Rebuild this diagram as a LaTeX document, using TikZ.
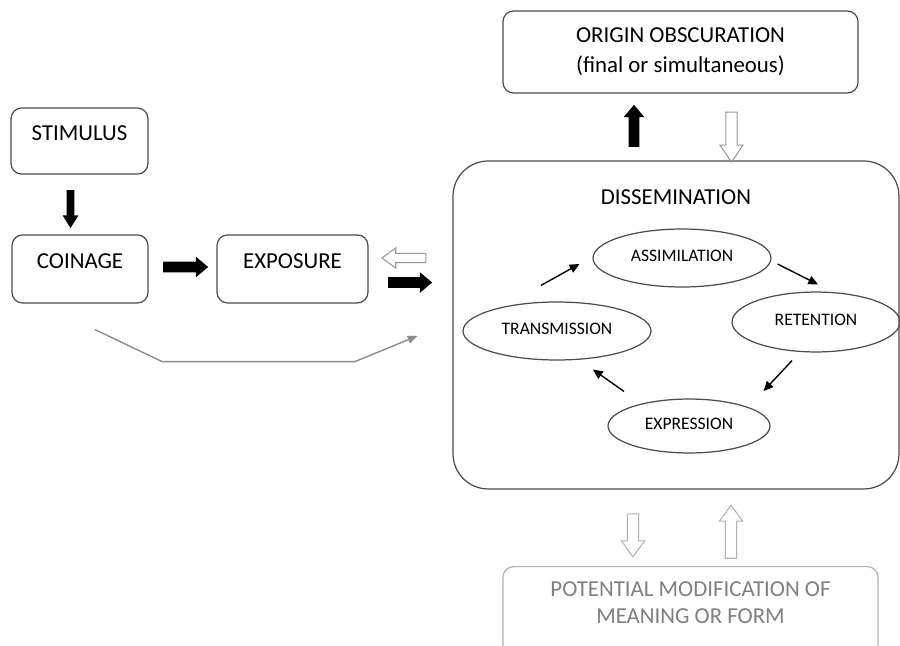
\documentclass[tikz,border=0pt]{standalone}
\usepackage{fontspec}
\setmainfont{Carlito}
\usetikzlibrary{shapes.geometric,shapes.arrows,arrows.meta,calc}

\tikzset{
  stagebox/.style={draw=black!70,line width=0.7pt,rounded corners=6pt,inner sep=0pt,font=\fontsize{13}{17}\selectfont},
  phase/.style={ellipse,draw=black!70,line width=0.7pt,inner sep=0pt,text depth=2pt,font=\fontsize{10}{12}\selectfont},
  cyc/.style={line width=0.8pt,-{Triangle[length=5.5pt,width=5pt]}},
  fullarrow/.style={single arrow,fill=black,inner xsep=0pt,inner ysep=2.85pt,minimum width=0pt,single arrow head extend=2.85pt,single arrow tip angle=80},
  openarrow/.style={single arrow,draw=black!40,line width=0.6pt,inner xsep=0pt,inner ysep=2.85pt,minimum width=0pt,single arrow head extend=3.41pt,single arrow tip angle=72},
}

\begin{document}
\begin{tikzpicture}[x=0.02cm,y=-0.02cm]
\clip(0,0)rectangle(900,646);
% stages on the left
\node[stagebox,anchor=base,minimum width=77.9pt,text height=18.5pt,text depth=19.1pt](stim)at(79.5,140.5){STIMULUS};
\node[stagebox,anchor=base,minimum width=77.4pt,text height=18.8pt,text depth=19.9pt](coin)at(80,268){COINAGE};
\node[stagebox,anchor=base,minimum width=85.9pt,text height=18.8pt,text depth=19.9pt](expo)at(292.5,268){EXPOSURE};
% dissemination and the boxes round it
\node[stagebox,rounded corners=20pt,anchor=base,minimum width=253.8pt,text height=24.75pt,text depth=161.9pt](diss)at(676,204.5){DISSEMINATION};
\node[stagebox,align=center,minimum width=202pt,minimum height=46.7pt](orig)at(680.5,52){ORIGIN OBSCURATION\\(final or simultaneous)};
\node[stagebox,draw=black!30,anchor=north,minimum width=213.4pt,minimum height=57pt](poten)at(690.5,566){};
\node[align=center,text=black!50,font=\fontsize{13}{15.5}\selectfont](potxt)at(690.5,603){POTENTIAL MODIFICATION OF\\MEANING OR FORM};
% the cycle
\node[phase,minimum width=101.3pt,minimum height=33pt](assim)at(682,258){ASSIMILATION};
\node[phase,minimum width=95.6pt,minimum height=34.1pt](reten)at(816,322){RETENTION};
\node[phase,minimum width=92.2pt,minimum height=30.7pt](expr)at(689,426){EXPRESSION};
\node[phase,minimum width=107pt,minimum height=33pt](trans)at(557,331){TRANSMISSION};
\draw[cyc]($(trans.north)+(-16,-16)$)--($(assim.west)+(-13,6)$);
\draw[cyc]($(assim.east)+(6,6)$)--($(reten.north)+(2,-7)$);
\draw[cyc]($(reten.south)+(-24,8)$)--($(expr.east)+(-7,-35)$);
\draw[cyc]($(expr.north)+(-65,-7)$)--($(trans.south)+(36,9)$);
% block arrows
\node[fullarrow,inner ysep=1.99pt,single arrow head extend=2.28pt,single arrow tip angle=64,minimum height=21.6pt,rotate=-90](s2c)at(70.5,206){};
\node[fullarrow,minimum height=25.6pt](c2e)at(182.5,267){};
\node[fullarrow,minimum height=25pt](e2d)at(407,282.5){};
\node[openarrow,inner ysep=2.28pt,single arrow head extend=3.13pt,minimum height=25pt,rotate=180](d2e)at(407,258){};
\node[fullarrow,minimum height=23.9pt,rotate=90](d2o)at(634,129){};
\node[openarrow,minimum height=28.5pt,single arrow tip angle=68,rotate=-90](o2d)at(731.5,133){};
\node[openarrow,draw=black!30,minimum height=24.5pt,rotate=-90](d2p)at(633,531.5){};
\node[openarrow,draw=black!30,minimum height=30.2pt,rotate=90](p2d)at(731,535.5){};
% straight from coinage to dissemination
\draw[black!45,line width=0.8pt,-{Triangle[length=5.5pt,width=4.5pt]}]($(coin.south)+(15,26)$)--++(67,32)--++(193,0)--($(diss.west)+(-35,11)$);
\end{tikzpicture}
\end{document}
